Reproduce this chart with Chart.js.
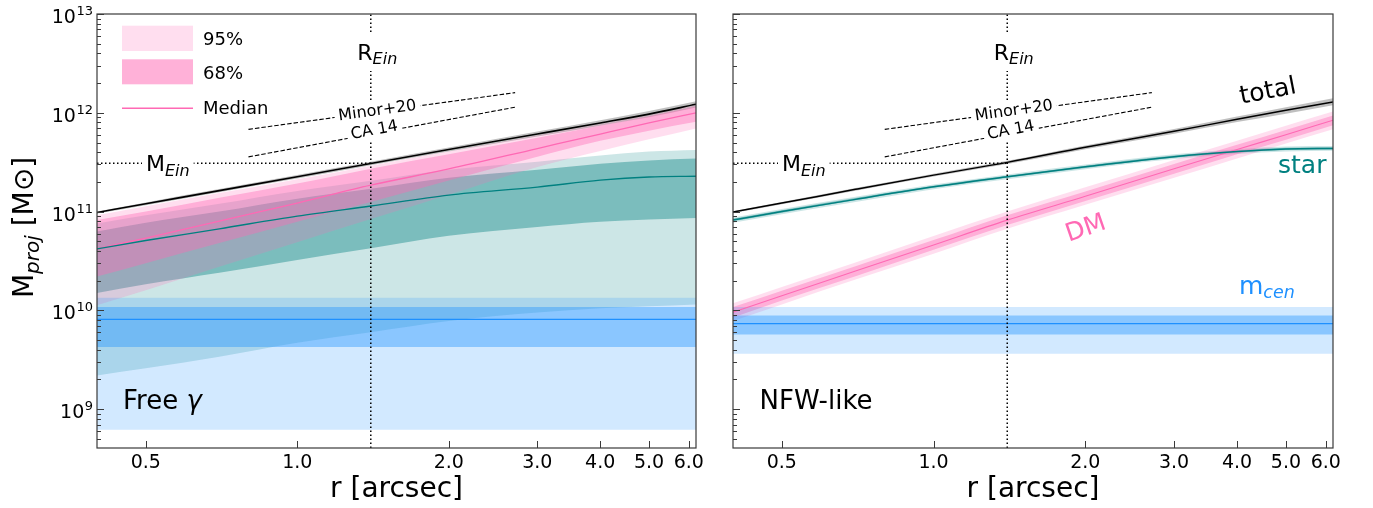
<!DOCTYPE html>
<html>
<head>
<meta charset="utf-8">
<script src="https://cdn.jsdelivr.net/npm/chart.js@4.4.1/dist/chart.umd.min.js"></script>
<style>
  html, body { margin: 0; padding: 0; background: #fff; }
  #wrap { position: relative; width: 1373px; height: 508px; }
  canvas { position: absolute; top: 0; }
  #cFree { left: 0; }
  #cNfw { left: 700px; }
</style>
</head>
<body>
<div id="wrap">
  <canvas id="cFree" width="730" height="508"></canvas>
  <canvas id="cNfw" width="673" height="508"></canvas>
</div>
<script>
// ---- axes ----
const X_MIN = 0.4, X_MAX = 6.2, Y_MIN = 4.05e8, Y_MAX = 1e13;
const xTicks = [0.5, 1, 2, 3, 4, 5, 6];
const yDecades = [9, 10, 11, 12, 13];

const rGrid = [0.4, 0.5, 0.7, 1.0, 1.4, 2.0, 3.0, 4.0, 5.0, 6.2];
const rEnds = [0.4, 6.2];

// Einstein radius / mass and literature lines
const rEin = 1.4, mEin = 3.09e11;
const minorR = [0.80, 2.71], minorM = [6.8e11, 1.6e12];
const ca14R = [0.80, 2.71], ca14M = [3.58e11, 1.14e12];

// ---- Free gamma panel ----
const freeTotMed = [9.8e10, 1.2e11, 1.63e11, 2.25e11, 3.07e11, 4.25e11, 6.1e11, 7.9e11, 9.7e11, 1.22e12];
const freeTotLo  = [9.55e10, 1.16e11, 1.57e11, 2.16e11, 2.95e11, 4.05e11, 5.75e11, 7.4e11, 9.0e11, 1.13e12];
const freeTotHi  = [1.0e11, 1.24e11, 1.69e11, 2.35e11, 3.2e11, 4.45e11, 6.45e11, 8.4e11, 1.04e12, 1.31e12];

const freeDmMed  = [4.2e10, 5.4e10, 8.0e10, 1.22e11, 1.85e11, 2.7e11, 4.35e11, 6.1e11, 7.9e11, 1.0e12];
const freeDm68Lo = [2.2e10, 3.0e10, 4.8e10, 7.9e10, 1.25e11, 2.06e11, 3.6e11, 5.2e11, 6.6e11, 8.1e11];
const freeDm68Hi = [8.2e10, 1.0e11, 1.38e11, 1.92e11, 2.72e11, 3.8e11, 5.6e11, 7.4e11, 9.2e11, 1.15e12];
const freeDm95Lo = [1.13e10, 1.6e10, 2.76e10, 4.9e10, 8.4e10, 1.48e11, 2.83e11, 4.1e11, 5.4e11, 6.95e11];
const freeDm95Hi = [9.2e10, 1.13e11, 1.54e11, 2.12e11, 2.92e11, 4.05e11, 5.9e11, 7.7e11, 9.5e11, 1.2e12];

const freeStarMed  = [4.2e10, 5.1e10, 6.7e10, 9.0e10, 1.14e11, 1.47e11, 1.77e11, 2.08e11, 2.24e11, 2.28e11];
const freeStar68Lo = [1.5e10, 1.84e10, 2.4e10, 3.24e10, 4.25e10, 5.7e10, 7.0e10, 7.9e10, 8.3e10, 8.6e10];
const freeStar68Hi = [6.3e10, 7.7e10, 1.0e11, 1.35e11, 1.7e11, 2.2e11, 2.65e11, 3.05e11, 3.3e11, 3.45e11];
const freeStar95Lo = [2.2e9, 2.6e9, 3.4e9, 4.7e9, 6.0e9, 7.8e9, 9.5e9, 1.05e10, 1.1e10, 1.15e10];
const freeStar95Hi = [7.6e10, 9.2e10, 1.2e11, 1.62e11, 2.05e11, 2.65e11, 3.2e11, 3.7e11, 4.05e11, 4.2e11];

const freeCenMed  = [8.1e9, 8.1e9];
const freeCen68Lo = [4.26e9, 4.26e9];
const freeCen68Hi = [1.08e10, 1.08e10];
const freeCen95Lo = [6.2e8, 6.2e8];
const freeCen95Hi = [1.34e10, 1.34e10];

// ---- NFW-like panel ----
const nfwTotMed = [9.9e10, 1.22e11, 1.68e11, 2.34e11, 3.15e11, 4.48e11, 6.5e11, 8.6e11, 1.06e12, 1.29e12];
const nfwTotLo  = [9.7e10, 1.19e11, 1.63e11, 2.26e11, 3.03e11, 4.28e11, 6.15e11, 8.05e11, 9.8e11, 1.19e12];
const nfwTotHi  = [1.01e11, 1.25e11, 1.73e11, 2.42e11, 3.27e11, 4.68e11, 6.85e11, 9.15e11, 1.14e12, 1.4e12];

const nfwStarMed  = [8.2e10, 1.0e11, 1.33e11, 1.78e11, 2.25e11, 2.84e11, 3.6e11, 4.05e11, 4.3e11, 4.36e11];
const nfwStar68Lo = [8.0e10, 9.75e10, 1.3e11, 1.74e11, 2.2e11, 2.77e11, 3.51e11, 3.95e11, 4.2e11, 4.26e11];
const nfwStar68Hi = [8.45e10, 1.03e11, 1.37e11, 1.83e11, 2.31e11, 2.92e11, 3.7e11, 4.16e11, 4.42e11, 4.48e11];
const nfwStar95Lo = [7.7e10, 9.4e10, 1.25e11, 1.68e11, 2.12e11, 2.68e11, 3.4e11, 3.82e11, 4.06e11, 4.12e11];
const nfwStar95Hi = [8.7e10, 1.06e11, 1.41e11, 1.88e11, 2.38e11, 3.0e11, 3.8e11, 4.28e11, 4.55e11, 4.6e11];

const nfwDmMed  = [9.6e9, 1.41e10, 2.5e10, 4.6e10, 8.2e10, 1.43e11, 2.71e11, 4.25e11, 6.0e11, 8.4e11];
const nfwDm68Lo = [8.5e9, 1.26e10, 2.22e10, 4.1e10, 7.3e10, 1.28e11, 2.42e11, 3.8e11, 5.35e11, 7.5e11];
const nfwDm68Hi = [1.08e10, 1.58e10, 2.8e10, 5.15e10, 9.2e10, 1.6e11, 3.03e11, 4.75e11, 6.7e11, 9.4e11];
const nfwDm95Lo = [7.8e9, 1.15e10, 2.05e10, 3.75e10, 6.7e10, 1.17e11, 2.2e11, 3.45e11, 4.9e11, 6.8e11];
const nfwDm95Hi = [1.18e10, 1.73e10, 3.05e10, 5.65e10, 1.0e11, 1.76e11, 3.33e11, 5.2e11, 7.4e11, 1.03e12];

const nfwCenMed  = [7.35e9, 7.35e9];
const nfwCen68Lo = [5.7e9, 5.7e9];
const nfwCen68Hi = [8.9e9, 8.9e9];
const nfwCen95Lo = [3.65e9, 3.65e9];
const nfwCen95Hi = [1.08e10, 1.08e10];

// ---- styling ----
const FONT = "'DejaVu Sans', sans-serif";
const PINK = '255,105,180', TEAL = '0,128,128', BLUE = '30,144,255';
const rgba = (c, a) => `rgba(${c},${a})`;
const rgb = c => `rgb(${c})`;
const SPINE = '#3a3a3a';

const pts = (xs, ys) => xs.map((x, i) => ({ x, y: ys[i] }));

function band(xs, lo, hi, color, order) {
  const common = { borderWidth: 0, borderColor: 'transparent', pointRadius: 0, cubicInterpolationMode: 'monotone', order };
  return [
    { ...common, data: pts(xs, lo), fill: false },
    { ...common, data: pts(xs, hi), fill: '-1', backgroundColor: color }
  ];
}

function line(xs, ys, color, width, dash, smooth) {
  return {
    data: pts(xs, ys), borderColor: color, borderWidth: width, borderDash: dash || [],
    pointRadius: 0, fill: false, order: 0,
    cubicInterpolationMode: smooth ? 'monotone' : 'default'
  };
}

function refLines() {
  return [
    line([rEin, rEin], [Y_MIN, Y_MAX], '#000', 1.5, [1.5, 2.5]),
    line([X_MIN, rEin], [mEin, mEin], '#000', 1.5, [1.5, 2.5]),
    line(minorR, minorM, '#000', 1.1, [4.5, 2]),
    line(ca14R, ca14M, '#000', 1.1, [4.5, 2])
  ];
}

// text made of several runs (main text, sub/superscripts)
function rich(ctx, parts, x, y, draw = true) {
  let w = 0;
  parts.forEach(p => {
    ctx.font = p.f;
    if (draw) ctx.fillText(p.t, x + w, y + (p.dy || 0));
    w += ctx.measureText(p.t).width;
  });
  return w;
}

function boxedRotated(ctx, text, font, cx, cy, deg, pad) {
  ctx.save();
  ctx.translate(cx, cy);
  ctx.rotate(deg * Math.PI / 180);
  ctx.font = font;
  const w = ctx.measureText(text).width;
  ctx.fillStyle = '#fff';
  ctx.fillRect(-w / 2 - pad, -10, w + 2 * pad, 20);
  ctx.fillStyle = '#000';
  ctx.textAlign = 'center';
  ctx.textBaseline = 'middle';
  ctx.fillText(text, 0, 1);
  ctx.restore();
}

function rotatedText(ctx, text, font, color, cx, cy, deg) {
  ctx.save();
  ctx.translate(cx, cy);
  ctx.rotate(deg * Math.PI / 180);
  ctx.font = font;
  ctx.fillStyle = color;
  ctx.textAlign = 'center';
  ctx.textBaseline = 'middle';
  ctx.fillText(text, 0, 0);
  ctx.restore();
}

function decor(panel) {
  return {
    id: 'decor_' + panel,
    afterDraw(chart) {
      const { ctx, chartArea: a, scales: { x, y } } = chart;
      ctx.save();
      ctx.textAlign = 'left';
      ctx.textBaseline = 'alphabetic';

      // R_Ein label (boxed)
      const xe = x.getPixelForValue(rEin);
      const rParts = [{ t: 'R', f: `22px ${FONT}` }, { t: 'Ein', f: `italic 16px ${FONT}`, dy: 4 }];
      const rw = rich(ctx, rParts, 0, 0, false);
      ctx.fillStyle = '#fff';
      ctx.fillRect(xe - 17, 33, rw + 8, 38);
      ctx.fillStyle = '#000';
      rich(ctx, rParts, xe - 13.5, 59.5);

      // M_Ein label (boxed)
      const ye = y.getPixelForValue(mEin);
      const mParts = [{ t: 'M', f: `22px ${FONT}` }, { t: 'Ein', f: `italic 16px ${FONT}`, dy: 5 }];
      const mw = rich(ctx, mParts, 0, 0, false);
      ctx.fillStyle = '#fff';
      ctx.fillRect(a.left + 45, ye - 13, mw + 8, 26);
      ctx.fillStyle = '#000';
      rich(ctx, mParts, a.left + 49, ye + 7.5);

      // literature line labels
      boxedRotated(ctx, 'Minor+20', `16px ${FONT}`, xe + 6.5, 110, -7.8, 4);
      boxedRotated(ctx, 'CA 14', `16px ${FONT}`, xe + 3.5, 129.5, -10.5, 4);

      // spines
      ctx.strokeStyle = SPINE;
      ctx.lineWidth = 1.2;
      ctx.strokeRect(a.left, a.top, a.right - a.left, a.bottom - a.top);

      // ticks (inward)
      ctx.lineWidth = 1;
      ctx.beginPath();
      yDecades.forEach(k => {
        const ty = Math.round(y.getPixelForValue(Math.pow(10, k))) + 0.5;
        ctx.moveTo(a.left, ty); ctx.lineTo(a.left + 7, ty);
      });
      for (let k = 8; k <= 12; k++) {
        for (let m = 2; m <= 9; m++) {
          const v = m * Math.pow(10, k);
          if (v < Y_MIN || v > Y_MAX) continue;
          const ty = Math.round(y.getPixelForValue(v)) + 0.5;
          ctx.moveTo(a.left, ty); ctx.lineTo(a.left + 4, ty);
        }
      }
      xTicks.forEach(v => {
        const tx = Math.round(x.getPixelForValue(v)) + 0.5;
        ctx.moveTo(tx, a.bottom); ctx.lineTo(tx, a.bottom - 7);
      });
      ctx.stroke();

      // x tick labels & title
      ctx.fillStyle = '#000';
      ctx.textAlign = 'center';
      ctx.font = `19px ${FONT}`;
      xTicks.forEach(v => ctx.fillText(v.toFixed(1), x.getPixelForValue(v), 468));
      ctx.font = `28px ${FONT}`;
      ctx.fillText('r [arcsec]', (a.left + a.right) / 2, 497);
      ctx.textAlign = 'left';

      if (panel === 'free') {
        // y tick labels 10^k
        yDecades.forEach(k => {
          const ty = y.getPixelForValue(Math.pow(10, k));
          ctx.font = `13px ${FONT}`;
          const ew = ctx.measureText(String(k)).width;
          ctx.font = `19px ${FONT}`;
          const bw = ctx.measureText('10').width;
          const xEnd = a.left - 4;
          ctx.fillText('10', xEnd - ew - bw - 0.5, ty + 9);
          ctx.font = `13px ${FONT}`;
          ctx.fillText(String(k), xEnd - ew, ty + 1);
        });

        // y title
        ctx.save();
        ctx.translate(33, 227.5);
        ctx.rotate(-Math.PI / 2);
        const yParts = [
          { t: 'M', f: `28px ${FONT}` },
          { t: 'proj', f: `italic 20px ${FONT}`, dy: 6 },
          { t: ' [M', f: `28px ${FONT}` },
          { t: '\u2299', f: `28px ${FONT}` },
          { t: ']', f: `28px ${FONT}` }
        ];
        const tw = rich(ctx, yParts, 0, 0, false);
        rich(ctx, yParts, -tw / 2, 0);
        ctx.restore();

        // legend
        const lx = a.left + 25, lw = 71;
        ctx.fillStyle = rgba(PINK, 0.22);
        ctx.fillRect(lx, 25.7, lw, 25.3);
        ctx.fillStyle = rgba(PINK, 0.52);
        ctx.fillRect(lx, 59.3, lw, 25);
        ctx.strokeStyle = rgb(PINK);
        ctx.lineWidth = 1.5;
        ctx.beginPath(); ctx.moveTo(lx, 108.3); ctx.lineTo(lx + lw, 108.3); ctx.stroke();
        ctx.fillStyle = '#000';
        ctx.font = `18px ${FONT}`;
        ctx.fillText('95%', lx + 81, 44.5);
        ctx.fillText('68%', lx + 81, 78.5);
        ctx.fillText('Median', lx + 81, 113.5);

        // panel name
        rich(ctx, [{ t: 'Free ', f: `26px ${FONT}` }, { t: '\u03b3', f: `italic 26px ${FONT}` }], a.left + 26, 409);
      } else {
        ctx.fillStyle = '#000';
        ctx.font = `26px ${FONT}`;
        ctx.fillText('NFW-like', a.left + 26.5, 408.5);

        rotatedText(ctx, 'total', `25px ${FONT}`, '#000', a.right - 65, 92, -11);
        ctx.fillStyle = rgb(TEAL);
        ctx.font = `25px ${FONT}`;
        ctx.fillText('star', a.right - 55, 173);
        rotatedText(ctx, 'DM', `25px ${FONT}`, rgb(PINK), a.left + 353, 229, -19);
        ctx.fillStyle = rgb(BLUE);
        rich(ctx, [{ t: 'm', f: `25px ${FONT}` }, { t: 'cen', f: `italic 17.5px ${FONT}`, dy: 4 }], a.right - 94, 294);
      }
      ctx.restore();
    }
  };
}

function makeChart(id, panel, datasets, padRight, yWidth) {
  return new Chart(document.getElementById(id), {
    type: 'line',
    data: { datasets },
    options: {
      responsive: false,
      animation: false,
      events: [],
      layout: { padding: { left: 0, right: padRight, top: 14, bottom: 0 } },
      plugins: { legend: { display: false }, tooltip: { enabled: false } },
      scales: {
        x: {
          type: 'logarithmic', min: X_MIN, max: X_MAX,
          grid: { display: false }, border: { display: false }, ticks: { display: false },
          afterFit: s => { s.height = 60; }
        },
        y: {
          type: 'logarithmic', min: Y_MIN, max: Y_MAX,
          grid: { display: false }, border: { display: false }, ticks: { display: false },
          afterFit: s => { s.width = yWidth; }
        }
      }
    },
    plugins: [decor(panel)]
  });
}

// ---- Free gamma ----  (higher order = drawn lower)
makeChart('cFree', 'free', [
  ...refLines(),
  line(rEnds, freeCenMed, rgb(BLUE), 1.3),
  line(rGrid, freeStarMed, rgb(TEAL), 1.3, null, true),
  line(rGrid, freeDmMed, rgb(PINK), 1.3, null, true),
  line(rGrid, freeTotMed, '#000', 1.6, null, true),
  ...band(rEnds, freeCen68Lo, freeCen68Hi, rgba(BLUE, 0.4), 4),
  ...band(rEnds, freeCen95Lo, freeCen95Hi, rgba(BLUE, 0.2), 5),
  ...band(rGrid, freeDm68Lo, freeDm68Hi, rgba(PINK, 0.4), 6),
  ...band(rGrid, freeDm95Lo, freeDm95Hi, rgba(PINK, 0.22), 7),
  ...band(rGrid, freeStar68Lo, freeStar68Hi, rgba(TEAL, 0.4), 8),
  ...band(rGrid, freeStar95Lo, freeStar95Hi, rgba(TEAL, 0.2), 9),
  ...band(rGrid, freeTotLo, freeTotHi, 'rgba(0,0,0,0.25)', 10)
], 34, 97);

// ---- NFW-like ----
makeChart('cNfw', 'nfw', [
  ...refLines(),
  line(rEnds, nfwCenMed, rgb(BLUE), 1.3),
  line(rGrid, nfwStarMed, rgb(TEAL), 1.5, null, true),
  line(rGrid, nfwDmMed, rgb(PINK), 1.1, null, true),
  line(rGrid, nfwTotMed, '#000', 1.5, null, true),
  ...band(rEnds, nfwCen68Lo, nfwCen68Hi, rgba(BLUE, 0.4), 4),
  ...band(rEnds, nfwCen95Lo, nfwCen95Hi, rgba(BLUE, 0.2), 5),
  ...band(rGrid, nfwDm68Lo, nfwDm68Hi, rgba(PINK, 0.4), 6),
  ...band(rGrid, nfwDm95Lo, nfwDm95Hi, rgba(PINK, 0.22), 7),
  ...band(rGrid, nfwStar68Lo, nfwStar68Hi, rgba(TEAL, 0.4), 8),
  ...band(rGrid, nfwStar95Lo, nfwStar95Hi, rgba(TEAL, 0.2), 9),
  ...band(rGrid, nfwTotLo, nfwTotHi, 'rgba(0,0,0,0.25)', 10)
], 40, 33);
</script>
</body>
</html>
